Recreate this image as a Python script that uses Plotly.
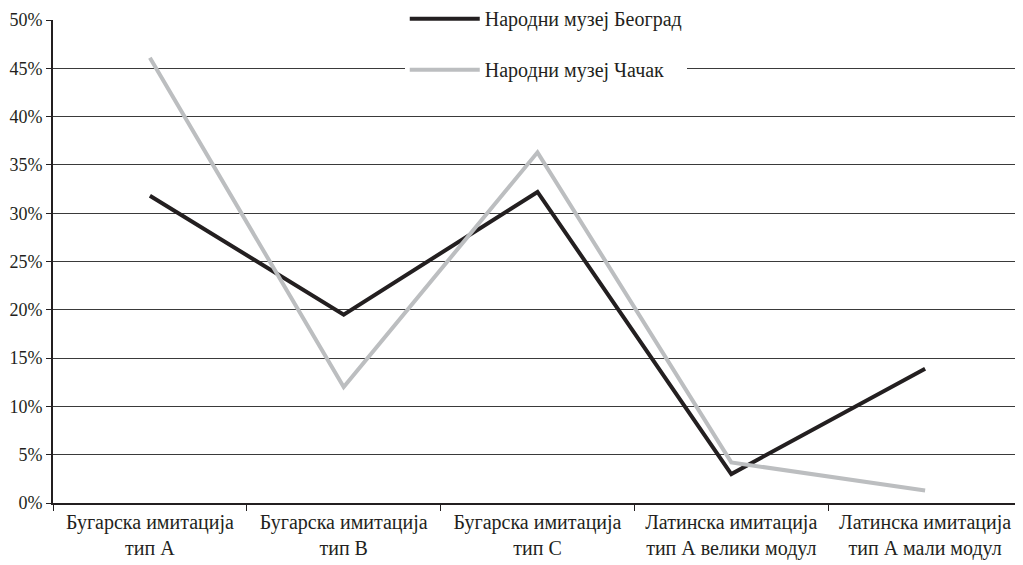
import plotly.graph_objects as go

categories = [
    "Бугарска имитација<br>тип А",
    "Бугарска имитација<br>тип В",
    "Бугарска имитација<br>тип С",
    "Латинска имитација<br>тип А велики модул",
    "Латинска имитација<br>тип А мали модул",
]
belgrade = [31.8, 19.5, 32.2, 3.0, 13.9]
cacak = [46.1, 12.0, 36.3, 4.2, 1.3]
series_names = ["Народни музеј Београд", "Народни музеј Чачак"]
y_ticks = [0, 5, 10, 15, 20, 25, 30, 35, 40, 45, 50]

FONT = "Liberation Serif"

fig = go.Figure()
fig.add_trace(go.Scatter(x=categories, y=belgrade, mode="lines", name=series_names[0],
                         legendgroup="a", line=dict(color="#231f20", width=4)))
fig.add_trace(go.Scatter(x=categories, y=cacak, mode="lines", name=series_names[1],
                         legendgroup="b", line=dict(color="#bcbec0", width=4)))

fig.update_layout(
    width=1015, height=557,
    margin=dict(l=45, r=1, t=12, b=62, autoexpand=False),
    paper_bgcolor="white", plot_bgcolor="white",
    font=dict(family=FONT, size=20, color="#231f20"),
    showlegend=True,
    legend=dict(x=0.363, y=0.95, xanchor="left", yanchor="middle",
                bgcolor="white", borderwidth=0, tracegroupgap=22,
                traceorder="grouped", font=dict(size=20), itemwidth=70),
    xaxis=dict(type="category", range=[-0.5, 4.5], tickson="boundaries",
               ticks="outside", ticklen=6, automargin=False,
               tickcolor="#231f20", showline=True, linecolor="#231f20", linewidth=2,
               showgrid=False, mirror=False, tickfont=dict(size=20)),
    yaxis=dict(range=[0, 50], tickvals=y_ticks, ticktext=[f"{v}%" for v in y_ticks],
               ticks="outside", ticklen=5, tickcolor="#231f20", automargin=False,
               showline=True, linecolor="#231f20", linewidth=2, mirror=True,
               showgrid=True, gridcolor="#3a3a3a", gridwidth=1, zeroline=False,
               tickfont=dict(size=18)),
)

fig.write_html("out.html")
